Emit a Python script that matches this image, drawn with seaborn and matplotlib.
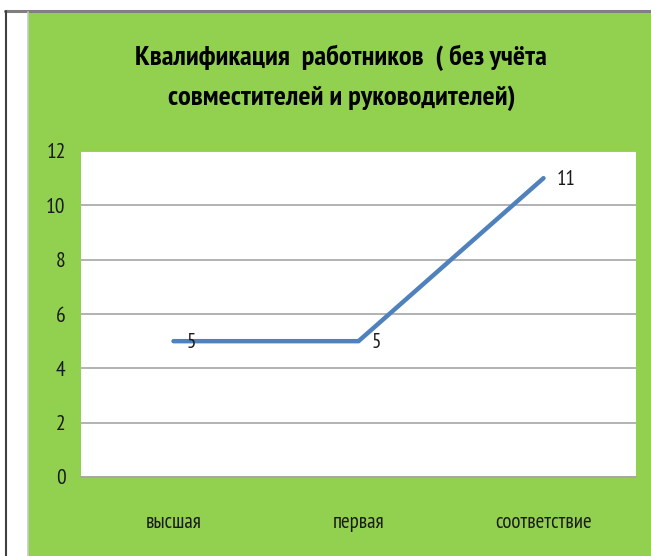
import matplotlib
matplotlib.use("Agg")
import matplotlib.pyplot as plt
from matplotlib import font_manager
from matplotlib.patches import Rectangle
from matplotlib.lines import Line2D
import seaborn as sns
import pandas as pd

categories = ["высшая", "первая", "соответствие"]
values = [5, 5, 11]
yticks = [0, 2, 4, 6, 8, 10, 12]
title_lines = ["Квалификация  работников  ( без учёта", "совместителей и руководителей)"]

names = {f.name for f in font_manager.fontManager.ttflist}
font = "DejaVu Sans"
for cand in ["PT Sans Narrow", "Roboto Condensed", "Fira Sans Condensed", "Open Sans Condensed",
             "Liberation Sans Narrow", "Carlito"]:
    if cand in names:
        font = cand
        break

sns.set_theme(style="white")
plt.rcParams['font.family'] = [font, 'DejaVu Sans']

W, H = 651, 556
fig = plt.figure(figsize=(W / 100, H / 100), dpi=100)
fig.patch.set_facecolor("white")

def fx(px):
    return px / W

def fy(py):
    return 1 - py / H

# green chart area and borders
fig.patches.append(Rectangle((fx(28), 0), 1 - fx(28), fy(12), transform=fig.transFigure,
                             facecolor="#92D050", edgecolor="none", zorder=-10))
fig.lines.append(Line2D([fx(5), 1], [fy(11), fy(11)], transform=fig.transFigure, color="#7f7f7f", lw=2.2, zorder=-5))
fig.lines.append(Line2D([fx(6), fx(6)], [0, fy(11)], transform=fig.transFigure, color="#404040", lw=1.5, zorder=-5))
fig.lines.append(Line2D([fx(28), fx(28)], [0, fy(12)], transform=fig.transFigure, color="#c8c8c8", lw=1.2, zorder=-5))

left, right, top, bottom = 81, 636, 151, 477
ax = fig.add_axes([fx(left), fy(bottom), fx(right - left), (bottom - top) / H], zorder=5)
ax.set_facecolor("white")

df = pd.DataFrame({"cat": categories, "val": values})
sns.lineplot(data=df, x="cat", y="val", ax=ax, color="#4F81BD", lw=3.2, sort=False)
ax.lines[0].set_solid_capstyle("round")

ax.set_xlim(-0.5, len(categories) - 0.5)
ax.set_ylim(0, 12)
ax.set_yticks(yticks)
ax.set_yticklabels([str(t) for t in yticks], fontsize=15.5, color="#1a1a1a")
ax.set_xticks(range(len(categories)))
ax.set_xticklabels(categories, fontsize=15, color="#1a1a1a")
ax.tick_params(axis="x", pad=26, length=0)
ax.tick_params(axis="y", pad=11, length=0)
ax.grid(axis="y", color="#a6a6a6", lw=1.2)
ax.set_axisbelow(True)
ax.set_xlabel("")
ax.set_ylabel("")
for s in ax.spines.values():
    s.set_visible(False)
ax.spines["bottom"].set_visible(True)
ax.spines["bottom"].set_color("#a6a6a6")
ax.spines["bottom"].set_linewidth(1.2)

for i, v in enumerate(values):
    ax.annotate(str(v), (i, v), xytext=(9.5, -1), textcoords="offset points",
                ha="left", va="center", fontsize=15, color="#1a1a1a")

t1 = fig.text(fx(341), fy(58), title_lines[0], ha="center", va="center", fontsize=20,
              fontweight="bold", color="black")
t2 = fig.text(fx(342), fy(98), title_lines[1], ha="center", va="center", fontsize=20,
              fontweight="bold", color="black")

# fit title width to reference (~412 px for first line)
renderer = fig.canvas.get_renderer()
w1 = t1.get_window_extent(renderer).width
scale = 412.0 / w1
fs = min(24, 20 * scale)
t1.set_fontsize(fs)
t2.set_fontsize(fs)

fig.savefig("out.png", dpi=100, facecolor="white")
